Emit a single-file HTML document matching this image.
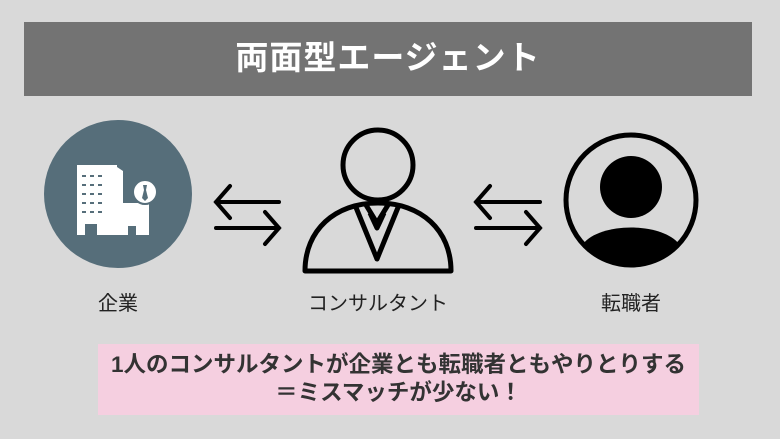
<!DOCTYPE html>
<html><head><meta charset="utf-8"><style>
body{margin:0;width:780px;height:439px;background:#d9d9d9;position:relative;overflow:hidden;font-family:"Liberation Sans","Noto Sans CJK JP",sans-serif}
.t{position:absolute;left:24px;top:22px;width:728px;height:74px;background:#737373;color:#fff;font-weight:bold;font-size:33px;text-align:center;line-height:72px;letter-spacing:1px}
.l{position:absolute;font-size:20px;color:#222;text-align:center;width:200px}
.p{position:absolute;left:98px;top:344px;width:601px;height:71px;background:#f5cfe0;color:#333;font-weight:bold;font-size:22.5px;text-align:center;line-height:28px;padding-top:7px;box-sizing:border-box;white-space:nowrap}
</style></head><body>
<div class="t">両面型エージェント</div>
<svg width="780" height="439" style="position:absolute;left:0;top:0">
<circle cx="118" cy="194" r="74" fill="#566e7a"/>
<g fill="#fff">
<rect x="77" y="165" width="40" height="70"/>
<polygon points="117,167 123,171 123,235 117,235"/>
<rect x="119" y="203" width="30" height="32"/>
<circle cx="145" cy="192" r="12" stroke="#566e7a" stroke-width="2"/>
</g>
<g fill="#566e7a">
<rect x="85" y="224" width="12" height="11"/><rect x="128" y="226" width="8" height="9"/>
<rect x="82" y="175" width="4" height="2"/><rect x="90" y="175" width="4" height="2"/><rect x="98" y="175" width="4" height="2"/>
<rect x="82" y="184" width="4" height="2"/><rect x="90" y="184" width="4" height="2"/><rect x="98" y="184" width="4" height="2"/>
<rect x="82" y="193" width="4" height="2"/><rect x="90" y="193" width="4" height="2"/><rect x="98" y="193" width="4" height="2"/>
<rect x="82" y="202" width="4" height="2"/><rect x="90" y="202" width="4" height="2"/><rect x="98" y="202" width="4" height="2"/>
<rect x="82" y="211" width="4" height="2"/><rect x="90" y="211" width="4" height="2"/><rect x="98" y="211" width="4" height="2"/>
<polygon points="143,185 147,185 146,190 148,198 145,201 142,198 144,190"/>
</g>
<g stroke="#000" stroke-width="4" fill="none" stroke-linecap="round">
<path d="M216,202 H279 M230,186 L216,202 L230,218 M216,228 H279 M265,212 L279,228 L265,244"/>
<path d="M476,202 H540 M490,186 L476,202 L490,218 M476,228 H540 M526,212 L540,228 L526,244"/>
</g>
<g stroke="#000" stroke-width="5" fill="none" stroke-linejoin="round">
<circle cx="378" cy="165" r="35"/>
<path d="M305,271 C305,230 335,203 378,203 C421,203 451,230 451,271 Z"/>
<path d="M355,205 L377,259 L399,205"/>
<path d="M366,205 L377,223 L388,205 M370,213 L377,228 L384,213"/>
</g>
<circle cx="631" cy="200" r="65" fill="none" stroke="#000" stroke-width="5"/>
<circle cx="631" cy="187" r="31" fill="#000"/>
<path d="M583,244 C600,222 662,222 679,244 A63,63 0 0 1 583,244 Z" fill="#000"/>
</svg>
<div class="l" style="left:18px;top:287px">企業</div>
<div class="l" style="left:278px;top:287px">コンサルタント</div>
<div class="l" style="left:531px;top:287px">転職者</div>
<div class="p">1人のコンサルタントが企業とも転職者ともやりとりする<br>＝ミスマッチが少ない！</div>
</body></html>
